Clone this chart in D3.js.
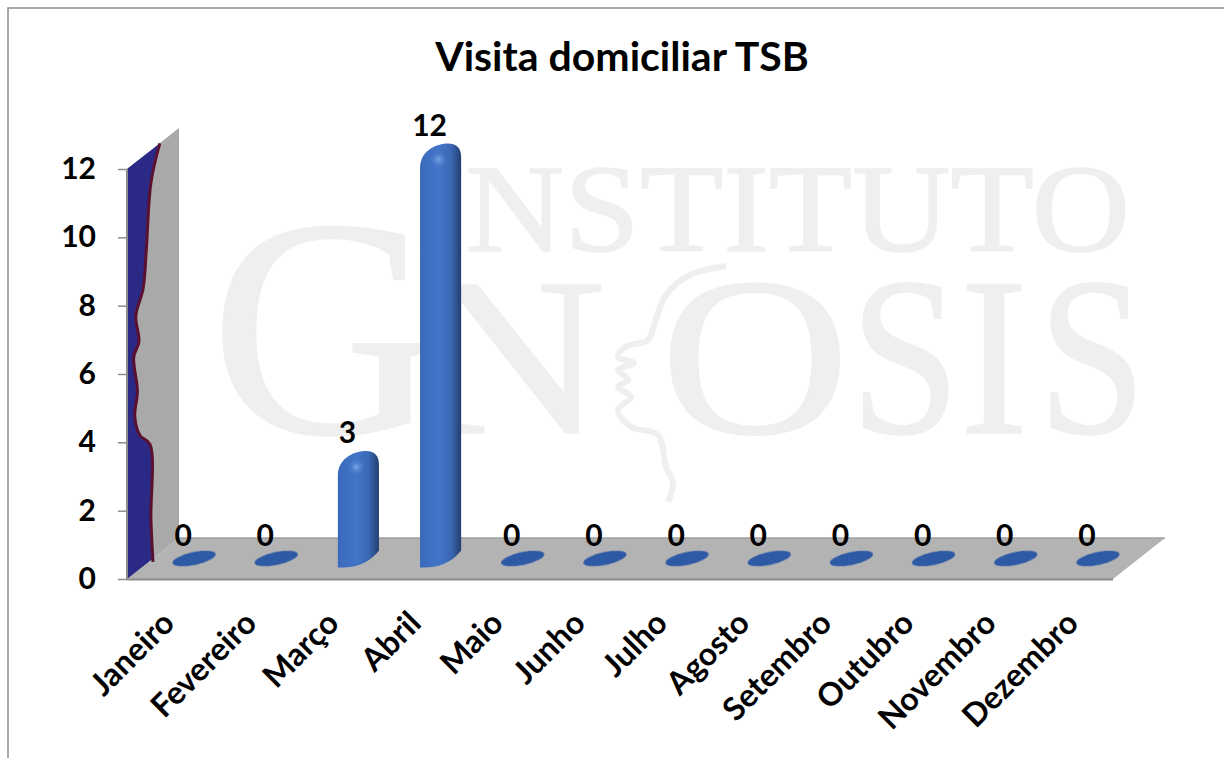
<!DOCTYPE html>
<html>
<head>
<meta charset="utf-8">
<script src="https://cdn.jsdelivr.net/npm/d3@7"></script>
<style>
body { margin: 0; background: #fff; }
text { font-family: Lato, "Noto Sans", sans-serif; font-weight: 700; fill: #000; }
.mark { font-family: "Liberation Serif", serif; font-weight: 400; fill: #efefef; stroke: #efefef; stroke-width: 1.5; }
</style>
</head>
<body>
<svg id="chart" width="1232" height="758"></svg>
<script>
const months = ["Janeiro", "Fevereiro", "Março", "Abril", "Maio", "Junho", "Julho", "Agosto", "Setembro", "Outubro", "Novembro", "Dezembro"];
const visits = [0, 0, 3, 12, 0, 0, 0, 0, 0, 0, 0, 0];
const yTicks = [0, 2, 4, 6, 8, 10, 12];
// wall stain edge: [depth 0-1, value]
const stainEdge = [[0.63, 12.75], [0.46, 11.6], [0.37, 9.6], [0.31, 8.5], [0.17, 7.7], [0.23, 6.95], [0.13, 6.5], [0.2, 5.5], [0.15, 4.75], [0.25, 4.2], [0.44, 3.95], [0.46, 1.75], [0.5, 0.5]];

const svg = d3.select("#chart");
const left = 127, right = 1113, floorY = 579, topY = 169;
const depthX = 52, depthY = -41;

const x = d3.scaleBand().domain(months).range([left, right]).paddingInner(0).paddingOuter(0);
const y = d3.scaleLinear().domain([0, 12]).range([floorY, topY]);

const defs = svg.append("defs");
const barGrad = defs.append("linearGradient").attr("id", "barGrad");
barGrad.append("stop").attr("offset", "0%").attr("stop-color", "#3a6abb");
barGrad.append("stop").attr("offset", "45%").attr("stop-color", "#4374c8");
barGrad.append("stop").attr("offset", "75%").attr("stop-color", "#3a68b4");
barGrad.append("stop").attr("offset", "100%").attr("stop-color", "#233f70");
const shine = defs.append("radialGradient").attr("id", "shine");
shine.append("stop").attr("offset", "0%").attr("stop-color", "#7ea6e6");
shine.append("stop").attr("offset", "100%").attr("stop-color", "#4374c8").attr("stop-opacity", 0);
defs.append("filter").attr("id", "soft").append("feGaussianBlur").attr("stdDeviation", 0.6);

// frame
svg.append("path").attr("d", "M8,758V8H1224")
    .attr("fill", "none").attr("stroke", "#8f8f8f").attr("stroke-width", 1.5);

// watermark
const wordmark = (txt, x0, x1, base, size) => svg.append("text").attr("class", "mark")
    .attr("x", x0).attr("y", base).attr("font-size", size)
    .attr("textLength", x1 - x0).attr("lengthAdjust", "spacingAndGlyphs").text(txt);
wordmark("INSTITUTO", 420, 1130, 251, 124);
wordmark("G", 210, 440, 433, 312);
wordmark("N", 418, 606, 433, 226);
wordmark("O", 660, 850, 433, 226);
wordmark("S", 850, 960, 433, 226);
wordmark("I", 960, 1028, 433, 226);
wordmark("S", 1038, 1146, 433, 226);
const face = [[726, 266], [690, 275], [666, 295], [655, 322], [648, 340], [625, 347], [618, 357], [634, 363], [618, 370], [628, 380], [618, 387], [631, 397], [618, 410], [631, 427], [658, 435], [666, 467], [673, 483], [668, 502]];
svg.append("path").attr("d", d3.line().curve(d3.curveCatmullRom)(face))
    .attr("fill", "none").attr("stroke", "#efefef").attr("stroke-width", 6);

// side wall and floor
const wall = d3.path();
wall.moveTo(left, y(0));
wall.lineTo(left, y(12));
wall.lineTo(left + depthX, y(12) + depthY);
wall.lineTo(left + depthX, y(0) + depthY);
wall.closePath();
svg.append("path").attr("d", wall.toString()).attr("fill", "#a9a9a9");

const floor = d3.path();
floor.moveTo(left, y(0));
floor.lineTo(left + depthX, y(0) + depthY);
floor.lineTo(right + depthX, y(0) + depthY);
floor.lineTo(right, y(0));
floor.closePath();
svg.append("path").attr("d", floor.toString()).attr("fill", "#b3b3b3");

svg.append("line").attr("x1", left + depthX).attr("x2", right + depthX)
    .attr("y1", y(0) + depthY).attr("y2", y(0) + depthY).attr("stroke", "#a0a0a0").attr("stroke-width", 1.5);
svg.append("line").attr("x1", left).attr("x2", right)
    .attr("y1", y(0) + 0.5).attr("y2", y(0) + 0.5).attr("stroke", "#8c8c8c").attr("stroke-width", 2);

// stain on the wall
const stainPts = stainEdge.map(([d, v]) => [left + d * depthX, y(v)]);
const stain = d3.line().curve(d3.curveCatmullRom)(stainPts);
const stainClose = `${stain}L${left + 0.5 * depthX},${y(0) + 0.5 * depthY}L${left},${y(0)}L${left},${y(12)}Z`;
svg.append("path").attr("d", stainClose).attr("fill", "#2a2a86");
svg.append("path").attr("d", stain).attr("fill", "none").attr("stroke", "#5a1030").attr("stroke-width", 3);

svg.append("line").attr("x1", left).attr("x2", left).attr("y1", y(12)).attr("y2", y(0))
    .attr("stroke", "#8c8c8c").attr("stroke-width", 2);

// y axis
const yAxis = svg.append("g").attr("transform", `translate(${left},0)`)
    .call(d3.axisLeft(y).tickValues(yTicks).tickSize(9).tickPadding(22));
yAxis.select(".domain").remove();
yAxis.selectAll("line").attr("stroke", "#8c8c8c").attr("stroke-width", 1.5);
yAxis.selectAll("text").attr("font-size", 30).attr("fill", "#000").style("font-family", "Lato");

// x labels
svg.append("g").selectAll("text").data(months).enter().append("text")
    .attr("text-anchor", "end")
    .attr("font-size", 32)
    .attr("transform", d => `translate(${x(d) + x.bandwidth() * 0.6},${y(0) + 46}) rotate(-45)`)
    .text(d => d);

// bars, sitting mid way into the floor
const offX = depthX / 2, offY = depthY / 2;
const barW = x.bandwidth() / 2;
const cx = d => x(d) + x.bandwidth() / 2 + offX;
const barY = v => y(v) + offY;

const barPath = (d, v) => {
    const x0 = cx(d) - barW / 2, x1 = cx(d) + barW / 2;
    const base = barY(0) + 9, top = barY(v) - 5;
    const p = d3.path();
    p.moveTo(x0, base);
    p.lineTo(x0, top + 24);
    p.bezierCurveTo(x0, top + 9, x0 + 14, top, x0 + 28, top);
    p.bezierCurveTo(x1 - 4, top, x1, top + 5, x1, top + 14);
    p.lineTo(x1, base - 17);
    p.bezierCurveTo(x1 - 6, base - 9, x1 - 18, base, x0 + 6, base);
    p.closePath();
    return p.toString();
};

const data = months.map((m, i) => ({ m, v: visits[i] }));

svg.append("g").selectAll("path").data(data.filter(d => d.v > 0)).enter().append("path")
    .attr("d", d => barPath(d.m, d.v))
    .attr("fill", "url(#barGrad)").attr("filter", "url(#soft)");

svg.append("g").selectAll("ellipse").data(data.filter(d => d.v > 0)).enter().append("ellipse")
    .attr("cx", d => cx(d.m) - 2).attr("cy", d => barY(d.v) + 11)
    .attr("rx", 9).attr("ry", 9).attr("fill", "url(#shine)");

// flat discs for the zero months
svg.append("g").selectAll("ellipse").data(data.filter(d => d.v === 0)).enter().append("ellipse")
    .attr("cx", 0).attr("cy", 0)
    .attr("rx", barW / 2 + 1.5).attr("ry", 6.5)
    .attr("transform", d => `translate(${cx(d.m)},${barY(0)}) rotate(-12)`)
    .attr("fill", "#2f5aa5").attr("filter", "url(#soft)");

// value labels
svg.append("g").selectAll("text").data(data).enter().append("text")
    .attr("text-anchor", "middle")
    .attr("font-size", 30)
    .attr("x", d => cx(d.m) - 11)
    .attr("y", d => barY(d.v) - 13)
    .text(d => d.v);

// title
svg.append("text").attr("x", 622).attr("y", 71).attr("text-anchor", "middle")
    .attr("font-size", 41).text("Visita domiciliar TSB");
</script>
</body>
</html>
